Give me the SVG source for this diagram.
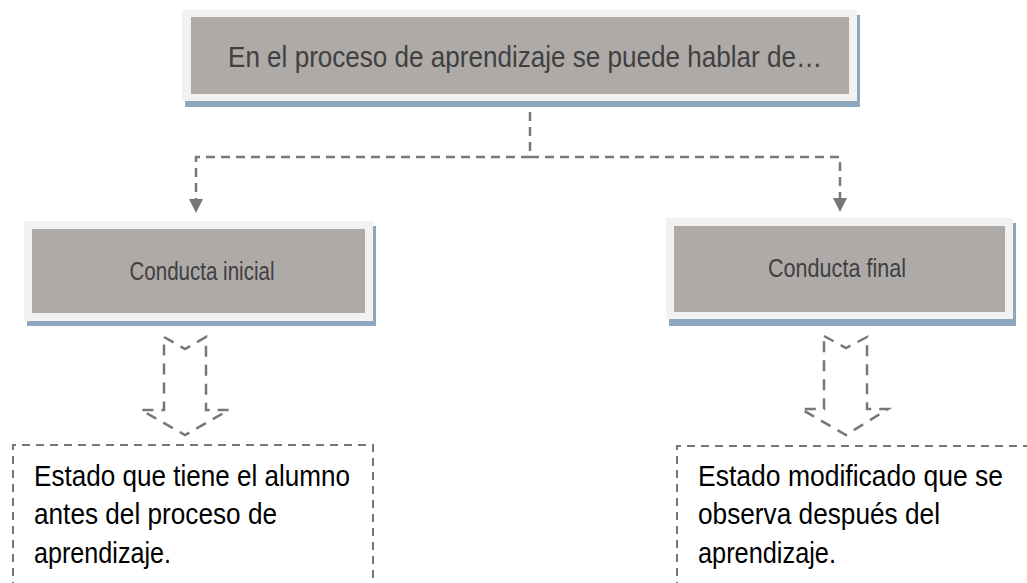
<svg xmlns="http://www.w3.org/2000/svg" width="1027" height="583" viewBox="0 0 1027 583">
<defs>
<style>
.shadow{fill:#8fa6bf}
.frame{fill:#f2f2f2}
.inner{fill:#aeaaa8}
.lbl{font-family:"Liberation Sans",Arial,sans-serif;fill:#404040}
.body{font-family:"Liberation Sans",Arial,sans-serif;fill:#000;font-size:30px}
.dash{fill:none;stroke:#777;stroke-width:2.5;stroke-dasharray:9 6}
.blk{fill:none;stroke:#777;stroke-width:2.5;stroke-dasharray:11 8}
.box{fill:none;stroke:#777;stroke-width:2;stroke-dasharray:8 6}
</style>
</defs>
<rect width="1027" height="583" fill="#fff"/>
<g id="connectors">
<path class="dash" d="M530,112 V157 H196 V199" />
<path d="M189,199 L203,199 L196,213 Z" fill="#777"/>
<path class="dash" d="M530,157 H840 V198" />
<path d="M833,198 L847,198 L840,212 Z" fill="#777"/>
<path class="blk" d="M164,337 L185,349 L206,337 L206,410 L229,410 L185,435 L141,410 L164,410 Z"/>
<path class="blk" d="M824,336 L846,348 L867,337 L867,409 L888,409 L846,435 L801,409 L824,409 Z"/>
</g>
<g id="top">
<rect class="shadow" x="185" y="15" width="675" height="92"/>
<rect class="frame" x="182" y="10" width="675" height="91"/>
<rect class="inner" x="191" y="17" width="658" height="77"/>
<text class="lbl" x="525" y="67" font-size="30" text-anchor="middle" textLength="594" lengthAdjust="spacingAndGlyphs">En el proceso de aprendizaje se puede hablar de…</text>
</g>
<g id="inicial">
<rect class="shadow" x="27" y="226" width="349" height="100"/>
<rect class="frame" x="24" y="221" width="349" height="100"/>
<rect class="inner" x="32" y="229" width="333" height="84"/>
<text class="lbl" x="202" y="280" font-size="26" text-anchor="middle" textLength="145" lengthAdjust="spacingAndGlyphs">Conducta inicial</text>
</g>
<g id="final">
<rect class="shadow" x="669" y="223" width="347" height="103"/>
<rect class="frame" x="666" y="218" width="347" height="101"/>
<rect class="inner" x="674" y="226" width="331" height="86"/>
<text class="lbl" x="837" y="277" font-size="26" text-anchor="middle" textLength="138" lengthAdjust="spacingAndGlyphs">Conducta final</text>
</g>
<g id="desc-inicial">
<path class="box" d="M13,590 V445 H373 V590"/>
<text class="body" x="34" y="486" textLength="316" lengthAdjust="spacingAndGlyphs">Estado que tiene el alumno</text>
<text class="body" x="34" y="524" textLength="243" lengthAdjust="spacingAndGlyphs">antes del proceso de</text>
<text class="body" x="34" y="563" textLength="137" lengthAdjust="spacingAndGlyphs">aprendizaje.</text>
</g>
<g id="desc-final">
<path class="box" d="M677,590 V446 H1030"/>
<text class="body" x="698" y="486" textLength="305" lengthAdjust="spacingAndGlyphs">Estado modificado que se</text>
<text class="body" x="698" y="524" textLength="242" lengthAdjust="spacingAndGlyphs">observa después del</text>
<text class="body" x="698" y="563" textLength="138" lengthAdjust="spacingAndGlyphs">aprendizaje.</text>
</g>
</svg>
